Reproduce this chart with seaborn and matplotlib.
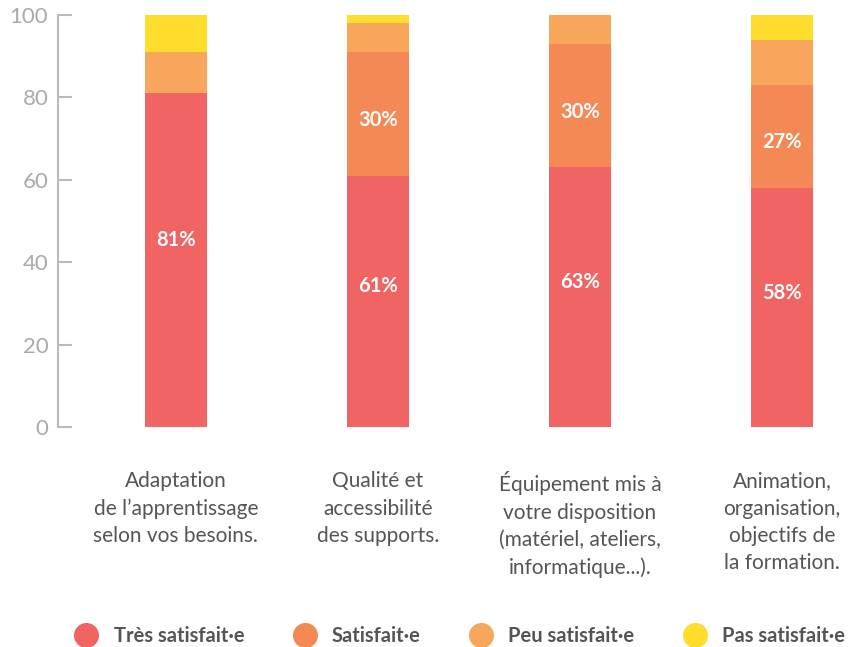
import seaborn as sns
import pandas as pd
import matplotlib.pyplot as plt
from matplotlib.lines import Line2D

categories = [
    "Adaptation\nde l\u2019apprentissage\nselon vos besoins.",
    "Qualit\u00e9 et\naccessibilit\u00e9\ndes supports.",
    "\u00c9quipement mis \u00e0\nvotre disposition\n(mat\u00e9riel, ateliers,\ninformatique...).",
    "Animation,\norganisation,\nobjectifs de\nla formation.",
]
series = ["Tr\u00e8s satisfait\u00b7e", "Satisfait\u00b7e", "Peu satisfait\u00b7e", "Pas satisfait\u00b7e"]
tres = [81, 61, 63, 58]
satisf = [0, 30, 30, 25]
peu = [10, 7, 7, 11]
pas = [9, 2, 0, 6]
tres_labels = ["81%", "61%", "63%", "58%"]
satisf_labels = ["", "30%", "30%", "27%"]
colors = ["#F06464", "#F48955", "#F8A65C", "#FFDD2C"]

sns.set_style("white")
plt.rcParams["font.family"] = ["Lato", "DejaVu Sans"]

df = pd.DataFrame({"cat": categories, series[0]: tres, series[1]: satisf,
                   series[2]: peu, series[3]: pas})
cum = df[series].cumsum(axis=1)

fig = plt.figure(figsize=(8.63, 6.47), dpi=100)
ax = fig.add_axes([58 / 863, 220 / 647, 805 / 863, 412 / 647])

# draw cumulative totals from the top layer down so each covers the next
for s, c in reversed(list(zip(series, colors))):
    sns.barplot(x=df["cat"], y=cum[s], color=c, saturation=1, width=0.307,
                linewidth=0, ax=ax)

for i in range(len(categories)):
    ax.text(i, tres[i] * 0.56, tres_labels[i], ha="center", va="center",
            color="white", fontsize=14.5, fontweight="bold")
    if satisf_labels[i]:
        ax.text(i, tres[i] + satisf[i] * 0.45, satisf_labels[i], ha="center", va="center",
                color="white", fontsize=14.5, fontweight="bold")

ax.set_ylim(0, 100)
ax.set_xlim(-0.583, 3.40)
ax.set_yticks([0, 20, 40, 60, 80, 100])
ax.set_xlabel("")
ax.set_ylabel("")
for side in ["top", "right", "bottom"]:
    ax.spines[side].set_visible(False)
ax.spines["left"].set_color("#BBBBBB")
ax.spines["left"].set_linewidth(1.5)
ax.tick_params(axis="y", left=True, direction="in", length=10, width=1.5, color="#BBBBBB",
               labelcolor="#AAAAAA", labelsize=16, pad=7)
ax.tick_params(axis="x", bottom=False, length=0, labelcolor="#555555", labelsize=15, pad=32)
for t in ax.get_xticklabels():
    t.set_verticalalignment("top")
    t.set_linespacing(1.45)

handles = [Line2D([], [], marker="o", linestyle="", markersize=17, markerfacecolor=c,
                  markeredgecolor=c) for c in colors]
leg = fig.legend(handles, series, loc="lower center", bbox_to_anchor=(0.528, -0.027),
                 ncol=4, frameon=False, columnspacing=2.0, handletextpad=0.35,
                 prop={"size": 14.5, "weight": "bold"})
for t in leg.get_texts():
    t.set_color("#555555")

fig.savefig("out.png", dpi=100)
plt.close()
